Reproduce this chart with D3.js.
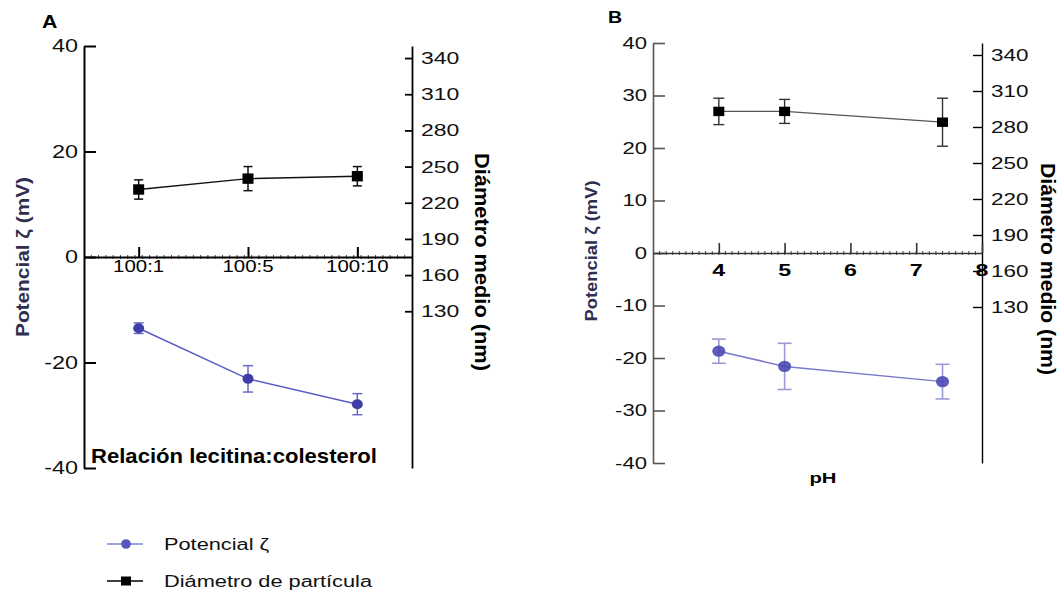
<!DOCTYPE html>
<html><head><meta charset="utf-8">
<script src="https://cdn.jsdelivr.net/npm/d3@7"></script>
<style>body{margin:0;background:#fff}svg{display:block}text{font-family:"Liberation Sans",Arial,sans-serif}</style>
</head><body><svg id="c" width="1062" height="596"></svg>
<script>
const categoriesA=["100:1","100:5","100:10"];
const zetaA=[-13.5,-23.1,-27.9];
const zetaAErr=[1.0,2.5,2.0];
const diamA=[231,240,242];
const diamAErr=[8,10,8];
const phB=[4,5,7.4];
const zetaB=[-18.7,-21.6,-24.5];
const zetaBErr=[2.3,4.4,3.3];
const diamB=[293,293,284];
const diamBErr=[11,10,20];
const zetaTicksA=[-40,-20,0,20,40];
const zetaTicksB=[-40,-30,-20,-10,0,10,20,30,40];
const diamTicks=[130,160,190,220,250,280,310,340];
const phTicks=[4,5,6,7,8];
const legendLabels=["Potencial ζ","Diámetro de partícula"];

const svg=d3.select("#c");
const fmt=d=>String(d);

function stretch(sel,sx){
  sel.each(function(){const L=this.getComputedTextLength();
    d3.select(this).attr("textLength",L*sx).attr("lengthAdjust","spacingAndGlyphs");});
}
function styleAxis(g,color,w,fs,sx,bold){
  g.attr("font-family",null).attr("font-size",null);
  g.select(".domain").attr("stroke",color).attr("stroke-width",w);
  g.selectAll(".tick line").attr("stroke",color).attr("stroke-width",w);
  g.selectAll("text").style("font-size",fs+"px").attr("fill","#111").style("font-family","'Liberation Sans', Arial, sans-serif")
    .style("font-weight",bold?"bold":"normal");
  stretch(g.selectAll("text"),sx);
}
function xLabels(parent,values,xfn,y,fs,sx,bold,format){
  const t=parent.append("g").selectAll("text").data(values).enter().append("text")
    .attr("x",d=>xfn(d)).attr("y",y).attr("text-anchor","middle")
    .style("font-size",fs+"px").style("font-weight",bold?"bold":"normal").attr("fill","#000").text(format);
  stretch(t,sx);
}
function errBars(g,xs,vals,errs,yScale,cap,color,w){
  const d=vals.map((v,i)=>({x:xs[i],v,e:errs[i]}));
  g.selectAll(null).data(d).enter().append("line")
    .attr("x1",p=>p.x).attr("x2",p=>p.x).attr("y1",p=>yScale(p.v+p.e)).attr("y2",p=>yScale(p.v-p.e))
    .attr("stroke",color).attr("stroke-width",w);
  [1,-1].forEach(s=>{
    g.selectAll(null).data(d).enter().append("line")
      .attr("x1",p=>p.x-cap/2).attr("x2",p=>p.x+cap/2)
      .attr("y1",p=>yScale(p.v+s*p.e)).attr("y2",p=>yScale(p.v+s*p.e))
      .attr("stroke",color).attr("stroke-width",w);
  });
}
function rotTitle(x,y,rot,text,fs,len,color){
  svg.append("text").attr("transform",`translate(${x},${y}) rotate(${rot})`)
    .attr("text-anchor","middle").style("font-size",fs+"px").style("font-weight","bold")
    .attr("fill",color).attr("textLength",len).attr("lengthAdjust","spacingAndGlyphs").text(text);
}

/* ---------- Panel A ---------- */
const xA=d3.scalePoint().domain(categoriesA).range([84,412]).padding(0.5);
const xAm=d3.scaleLinear().domain([0,3]).range([84,412]);
const yA=d3.scaleLinear().domain([-40,40]).range([468,46]);
const yAR=d3.scaleLinear().domain([0,350]).range([468,46]);

const gA=svg.append("g");
const axAL=gA.append("g").attr("transform","translate(84,0)")
  .call(d3.axisLeft(yA).tickValues(zetaTicksA).tickFormat(fmt).tickSize(-12).tickSizeOuter(0).tickPadding(6));
styleAxis(axAL,"#000",2,18,1.3,false);
const axAR=gA.append("g").attr("transform","translate(412,0)")
  .call(d3.axisRight(yAR).tickValues(diamTicks).tickFormat(fmt).tickSize(-7).tickSizeOuter(0).tickPadding(9));
styleAxis(axAR,"#000",1.8,17,1.35,false);
gA.append("g").selectAll("line").data(d3.range(1,45).map(i=>i/15)).enter().append("line")
  .attr("x1",d=>xAm(d)).attr("x2",d=>xAm(d)).attr("y1",yA(0)-2).attr("y2",yA(0)+2)
  .attr("stroke","#444").attr("stroke-width",1);
const axAX=gA.append("g").attr("transform",`translate(0,${yA(0)})`)
  .call(d3.axisBottom(xA).tickSize(-10).tickSizeOuter(0).tickFormat(""));
styleAxis(axAX,"#000",2,15.5,1.3,false);
xLabels(gA,categoriesA,d=>xA(d),yA(0)+14.5,17,1.2,false,d=>d);

const tA=gA.append("text").attr("x",91).attr("y",463).style("font-size","21px").style("font-weight","bold")
  .attr("fill","#000").text("Relación lecitina:colesterol");
tA.attr("textLength",286).attr("lengthAdjust","spacingAndGlyphs");
const lA=gA.append("text").attr("x",42).attr("y",28).style("font-size","19px").style("font-weight","bold").text("A");
stretch(lA,1.12);

// diameter A
const xsA=categoriesA.map(c=>xA(c));
gA.append("path").datum(diamA).attr("fill","none").attr("stroke","#111").attr("stroke-width",1.4)
  .attr("d",d3.line().x((d,i)=>xsA[i]).y(d=>yAR(d)));
errBars(gA,xsA,diamA,diamAErr,yAR,9,"#111",1.5);
gA.selectAll(null).data(diamA).enter().append("rect")
  .attr("x",(d,i)=>xsA[i]-5.5).attr("y",d=>yAR(d)-5.2).attr("width",11).attr("height",10.4).attr("fill","#000");
// zeta A
gA.append("path").datum(zetaA).attr("fill","none").attr("stroke","#5b5bc4").attr("stroke-width",1.5)
  .attr("d",d3.line().x((d,i)=>xsA[i]).y(d=>yA(d)));
errBars(gA,xsA,zetaA,zetaAErr,yA,10,"#6a6ac8",1.5);
gA.selectAll(null).data(zetaA).enter().append("ellipse")
  .attr("cx",(d,i)=>xsA[i]).attr("cy",d=>yA(d)).attr("rx",5.5).attr("ry",5).attr("fill","#3e3ea6");

/* ---------- Panel B ---------- */
const xB=d3.scaleLinear().domain([3,8]).range([653,982]);
const yB=d3.scaleLinear().domain([-40,40]).range([463,43]);
const yBR=d3.scaleLinear().domain([0,350]).range([463,43]);
const gB=svg.append("g");
const axBL=gB.append("g").attr("transform","translate(653,0)")
  .call(d3.axisLeft(yB).tickValues(zetaTicksB).tickFormat(fmt).tickSize(-12).tickSizeOuter(0).tickPadding(6));
styleAxis(axBL,"#555",1.6,17,1.3,false);
const axBR=gB.append("g").attr("transform","translate(982,0)")
  .call(d3.axisRight(yBR).tickValues(diamTicks).tickFormat(fmt).tickSize(-9).tickSizeOuter(0).tickPadding(9));
styleAxis(axBR,"#000",1.4,17,1.32,false);
gB.append("g").selectAll("line").data(d3.range(31,80).map(i=>i/10)).enter().append("line")
  .attr("x1",d=>xB(d)).attr("x2",d=>xB(d)).attr("y1",yB(0)-2).attr("y2",yB(0)+2)
  .attr("stroke","#444").attr("stroke-width",1);
const axBX=gB.append("g").attr("transform",`translate(0,${yB(0)})`)
  .call(d3.axisBottom(xB).tickValues(phTicks).tickFormat("").tickSize(-10).tickSizeOuter(0));
styleAxis(axBX,"#333",1.6,16,1.4,true);
xLabels(gB,phTicks,d=>xB(d),yB(0)+23,16,1.45,true,fmt);

const tB=gB.append("text").attr("x",823).attr("y",483).attr("text-anchor","middle").style("font-size","15px").style("font-weight","bold")
  .text("pH");
stretch(tB,1.35);
const lB=gB.append("text").attr("x",608).attr("y",23).style("font-size","17px").style("font-weight","bold").text("B");
stretch(lB,1.15);

gB.append("path").datum(diamB).attr("fill","none").attr("stroke","#555").attr("stroke-width",1.2)
  .attr("d",d3.line().x((d,i)=>xB(phB[i])).y(d=>yBR(d)));
errBars(gB,phB.map(p=>xB(p)),diamB,diamBErr,yBR,11,"#333",1.4);
gB.selectAll(null).data(diamB).enter().append("rect")
  .attr("x",(d,i)=>xB(phB[i])-5.5).attr("y",d=>yBR(d)-4.7).attr("width",11).attr("height",9.4).attr("fill","#000");

gB.append("path").datum(zetaB).attr("fill","none").attr("stroke","#7a7acc").attr("stroke-width",1.5)
  .attr("d",d3.line().x((d,i)=>xB(phB[i])).y(d=>yB(d)));
errBars(gB,phB.map(p=>xB(p)),zetaB,zetaBErr,yB,14,"#9a9ad6",1.6);
gB.selectAll(null).data(zetaB).enter().append("ellipse")
  .attr("cx",(d,i)=>xB(phB[i])).attr("cy",d=>yB(d)).attr("rx",6.5).attr("ry",5.7).attr("fill","#4a4ab2").attr("fill-opacity",0.9);

/* ---------- axis titles ---------- */
rotTitle(29,257,-90,"Potencial ζ (mV)",19,160,"#2e2e50");
rotTitle(597,251,-90,"Potencial ζ (mV)",17,141,"#2e2e50");
rotTitle(475,262,90,"Diámetro medio (nm)",20,218,"#000");
rotTitle(1041,269,90,"Diámetro medio (nm)",20,212,"#000");

/* ---------- legend ---------- */
const lg=svg.append("g");
const ly=[544,581];
lg.selectAll(null).data(legendLabels).enter().append("line")
  .attr("x1",107).attr("x2",143).attr("y1",(d,i)=>ly[i]).attr("y2",(d,i)=>ly[i])
  .attr("stroke",(d,i)=>i?"#000":"#8080d2").attr("stroke-width",1.4);
lg.append("circle").attr("cx",126).attr("cy",ly[0]).attr("r",4.8).attr("fill","#5656bc");
lg.append("rect").attr("x",121).attr("y",ly[1]-4.5).attr("width",10).attr("height",9).attr("fill","#000");
const lt=lg.selectAll(null).data(legendLabels).enter().append("text")
  .attr("x",164).attr("y",(d,i)=>ly[i]+6).style("font-size","16px").attr("fill","#111").text(d=>d);
stretch(lt,1.36);
</script></body></html>
